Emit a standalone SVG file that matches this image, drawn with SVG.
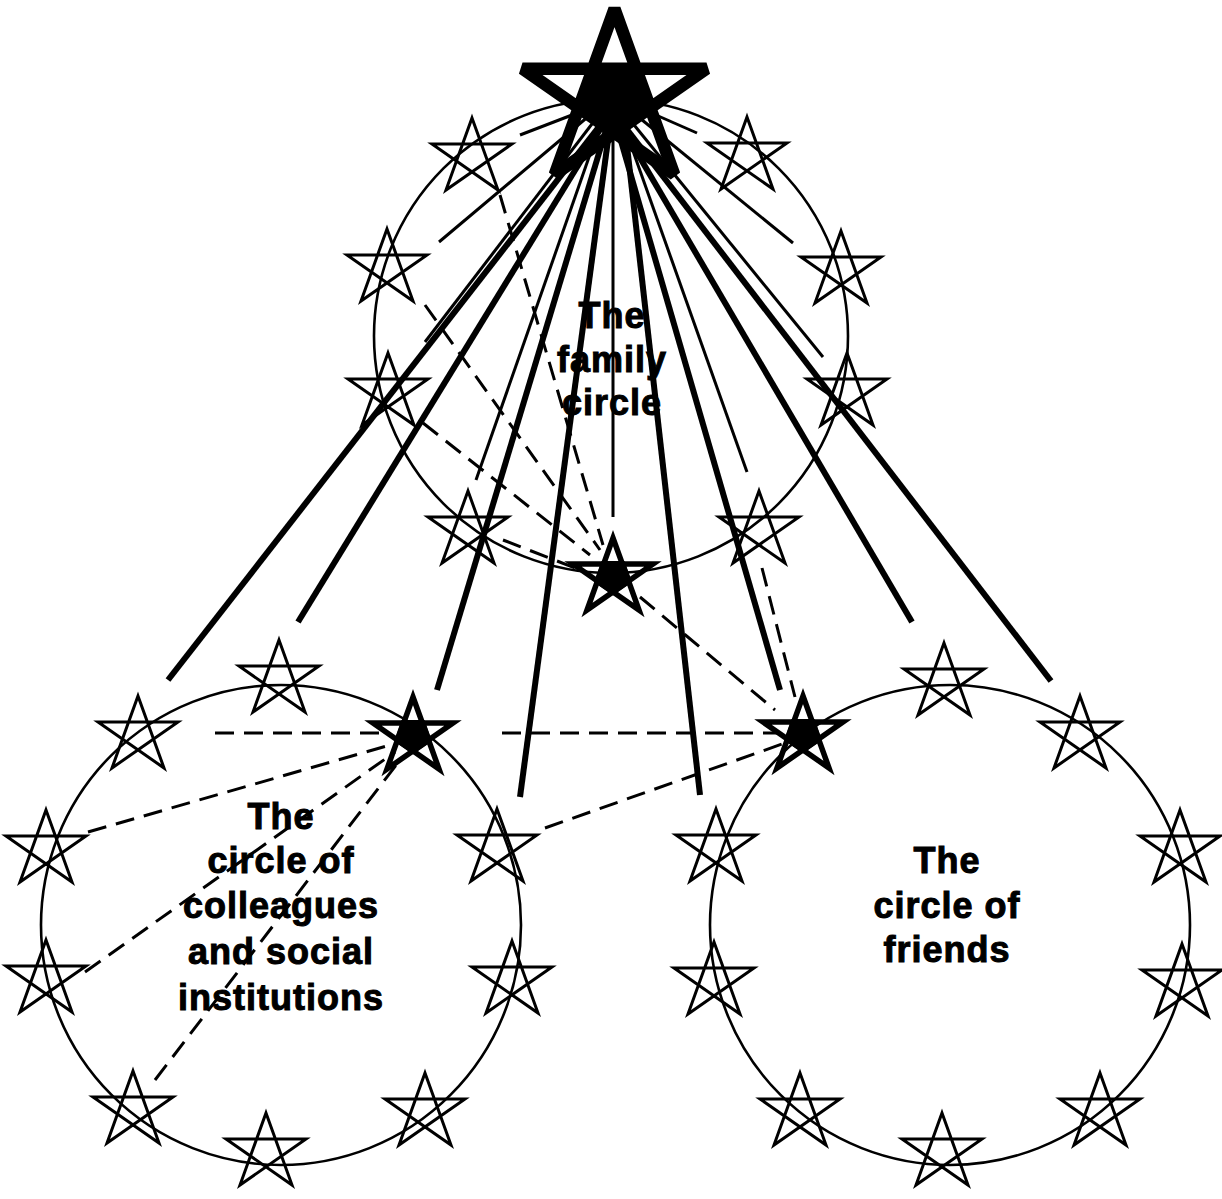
<svg xmlns="http://www.w3.org/2000/svg" xmlns:xlink="http://www.w3.org/1999/xlink" width="1222" height="1199" viewBox="0 0 1222 1199">
<style>
.circ{fill:none;stroke:#000;stroke-width:2.6}
.star use.s{fill:none;stroke:#000;stroke-width:3;stroke-linejoin:miter;stroke-miterlimit:4}
.bold use.s{fill:none;stroke:#000;stroke-width:5.5;stroke-linejoin:miter;stroke-miterlimit:4}
.bold use.p{fill:#000;stroke:#000;stroke-width:6}
.thick{stroke:#000;stroke-width:6;fill:none}
.thin{stroke:#000;stroke-width:3;fill:none}
.dash{stroke:#000;stroke-width:3;fill:none;stroke-dasharray:19 10}
.lbl{font-family:"Liberation Sans",Arial,sans-serif;font-weight:bold;font-size:36px;letter-spacing:1px;text-anchor:middle;fill:#000;stroke:#000;stroke-width:1}
</style>
<defs>
<path id="sp" d="M0,-37 L26,35 L-40,-11 L40,-11 L-26,35 Z"/>
<path id="pent" d="M-9.4,-11 L9.4,-11 L15.5,6 L0,16.9 L-15.5,6 Z"/>
</defs>
<rect width="1222" height="1199" fill="#fff"/>

<g id="circles">
<circle id="family-circle" class="circ" cx="611" cy="336" r="237"/>
<circle id="colleagues-circle" class="circ" cx="281" cy="925" r="240"/>
<circle id="friends-circle" class="circ" cx="950" cy="925" r="240"/>
</g>

<g id="connectors">
<line class="thick" x1="612" y1="110" x2="168" y2="680"/>
<line class="thick" x1="612" y1="110" x2="298" y2="622"/>
<line class="thick" x1="612" y1="110" x2="437" y2="690"/>
<line class="thick" x1="612" y1="110" x2="520" y2="797"/>
<line class="thick" x1="623" y1="110" x2="700" y2="795"/>
<line class="thick" x1="612" y1="110" x2="780" y2="690"/>
<line class="thick" x1="612" y1="110" x2="912" y2="622"/>
<line class="thick" x1="612" y1="110" x2="1051" y2="681"/>

<line class="thin" x1="585" y1="110" x2="520" y2="135"/>
<line class="thin" x1="590" y1="115" x2="439" y2="242"/>
<line class="thin" x1="595" y1="120" x2="425" y2="342"/>
<line class="thin" x1="602" y1="120" x2="476" y2="480"/>
<line class="thin" x1="613" y1="130" x2="613" y2="517"/>
<line class="thin" x1="622" y1="120" x2="747" y2="472"/>
<line class="thin" x1="630" y1="120" x2="823" y2="357"/>
<line class="thin" x1="636" y1="115" x2="793" y2="243"/>
<line class="thin" x1="640" y1="108" x2="697" y2="133"/>

<line class="dash" x1="500" y1="195" x2="603" y2="545"/>
<line class="dash" x1="425" y1="305" x2="600" y2="550"/>
<line class="dash" x1="423" y1="423" x2="590" y2="555"/>
<line class="dash" x1="503" y1="540" x2="575" y2="568"/>
<line class="dash" x1="762" y1="568" x2="795" y2="697"/>
<line class="dash" x1="640" y1="597" x2="775" y2="710"/>
<line class="dash" x1="215" y1="733" x2="385" y2="733"/>
<line class="dash" x1="88" y1="832" x2="390" y2="745"/>
<line class="dash" x1="85" y1="972" x2="395" y2="752"/>
<line class="dash" x1="155" y1="1080" x2="400" y2="760"/>
<line class="dash" x1="502" y1="733" x2="778" y2="733"/>
<line class="dash" x1="545" y1="828" x2="785" y2="743"/>
</g>

<g id="big-star" class="bold">
<use href="#pent" class="p" transform="translate(614.5,94) scale(2.3)" style="stroke-width:3"/>
<use href="#sp" class="s" transform="translate(614.5,94) scale(2.3)" style="stroke-width:5.4;stroke-linejoin:bevel"/>
</g>

<g id="family-stars">
<g id="f-ul" class="star"><use class="s" href="#sp" x="472" y="155"/></g>
<g id="f-l" class="star"><use class="s" href="#sp" x="387" y="266"/></g>
<g id="f-ll" class="star"><use class="s" href="#sp" x="388" y="390"/></g>
<g id="f-bl" class="star"><use class="s" href="#sp" x="468" y="528"/></g>
<g id="f-ur" class="star"><use class="s" href="#sp" x="747" y="154"/></g>
<g id="f-r" class="star"><use class="s" href="#sp" x="841" y="268"/></g>
<g id="f-rl" class="star"><use class="s" href="#sp" x="847" y="390"/></g>
<g id="f-br" class="star"><use class="s" href="#sp" x="759" y="528"/></g>
<g id="f-bold" class="bold"><use class="p" href="#pent" x="613" y="575"/><use class="s" href="#sp" x="613" y="575"/></g>
</g>

<g id="colleague-stars">
<g id="c-tl" class="star"><use class="s" href="#sp" x="138" y="733"/></g>
<g id="c-t" class="star"><use class="s" href="#sp" x="279" y="677"/></g>
<g id="c-l" class="star"><use class="s" href="#sp" x="46" y="847"/></g>
<g id="c-ll" class="star"><use class="s" href="#sp" x="46" y="977"/></g>
<g id="c-r" class="star"><use class="s" href="#sp" x="497" y="846"/></g>
<g id="c-rl" class="star"><use class="s" href="#sp" x="512" y="978"/></g>
<g id="c-bl" class="star"><use class="s" href="#sp" x="133" y="1108"/></g>
<g id="c-b" class="star"><use class="s" href="#sp" x="266" y="1150"/></g>
<g id="c-br" class="star"><use class="s" href="#sp" x="425" y="1110"/></g>
<g id="c-bold" class="bold"><use class="p" href="#pent" x="413" y="734"/><use class="s" href="#sp" x="413" y="734"/></g>
</g>

<g id="friend-stars">
<g id="r-t" class="star"><use class="s" href="#sp" x="944" y="680"/></g>
<g id="r-tr" class="star"><use class="s" href="#sp" x="1080" y="733"/></g>
<g id="r-l" class="star"><use class="s" href="#sp" x="716" y="846"/></g>
<g id="r-ll" class="star"><use class="s" href="#sp" x="714" y="979"/></g>
<g id="r-r" class="star"><use class="s" href="#sp" x="1180" y="847"/></g>
<g id="r-rl" class="star"><use class="s" href="#sp" x="1182" y="981"/></g>
<g id="r-bl" class="star"><use class="s" href="#sp" x="800" y="1110"/></g>
<g id="r-b" class="star"><use class="s" href="#sp" x="942" y="1150"/></g>
<g id="r-br" class="star"><use class="s" href="#sp" x="1100" y="1110"/></g>
<g id="r-bold" class="bold"><use class="p" href="#pent" x="803" y="733"/><use class="s" href="#sp" x="803" y="733"/></g>
</g>

<g id="labels">
<text class="lbl" x="612" y="328">The</text>
<text class="lbl" x="612" y="372">family</text>
<text class="lbl" x="612" y="415">circle</text>
<text class="lbl" x="281" y="829">The</text>
<text class="lbl" x="281" y="873">circle of</text>
<text class="lbl" x="281" y="918">colleagues</text>
<text class="lbl" x="281" y="964">and social</text>
<text class="lbl" x="281" y="1010">institutions</text>
<text class="lbl" x="947" y="873">The</text>
<text class="lbl" x="947" y="918">circle of</text>
<text class="lbl" x="947" y="962">friends</text>
</g>
</svg>
